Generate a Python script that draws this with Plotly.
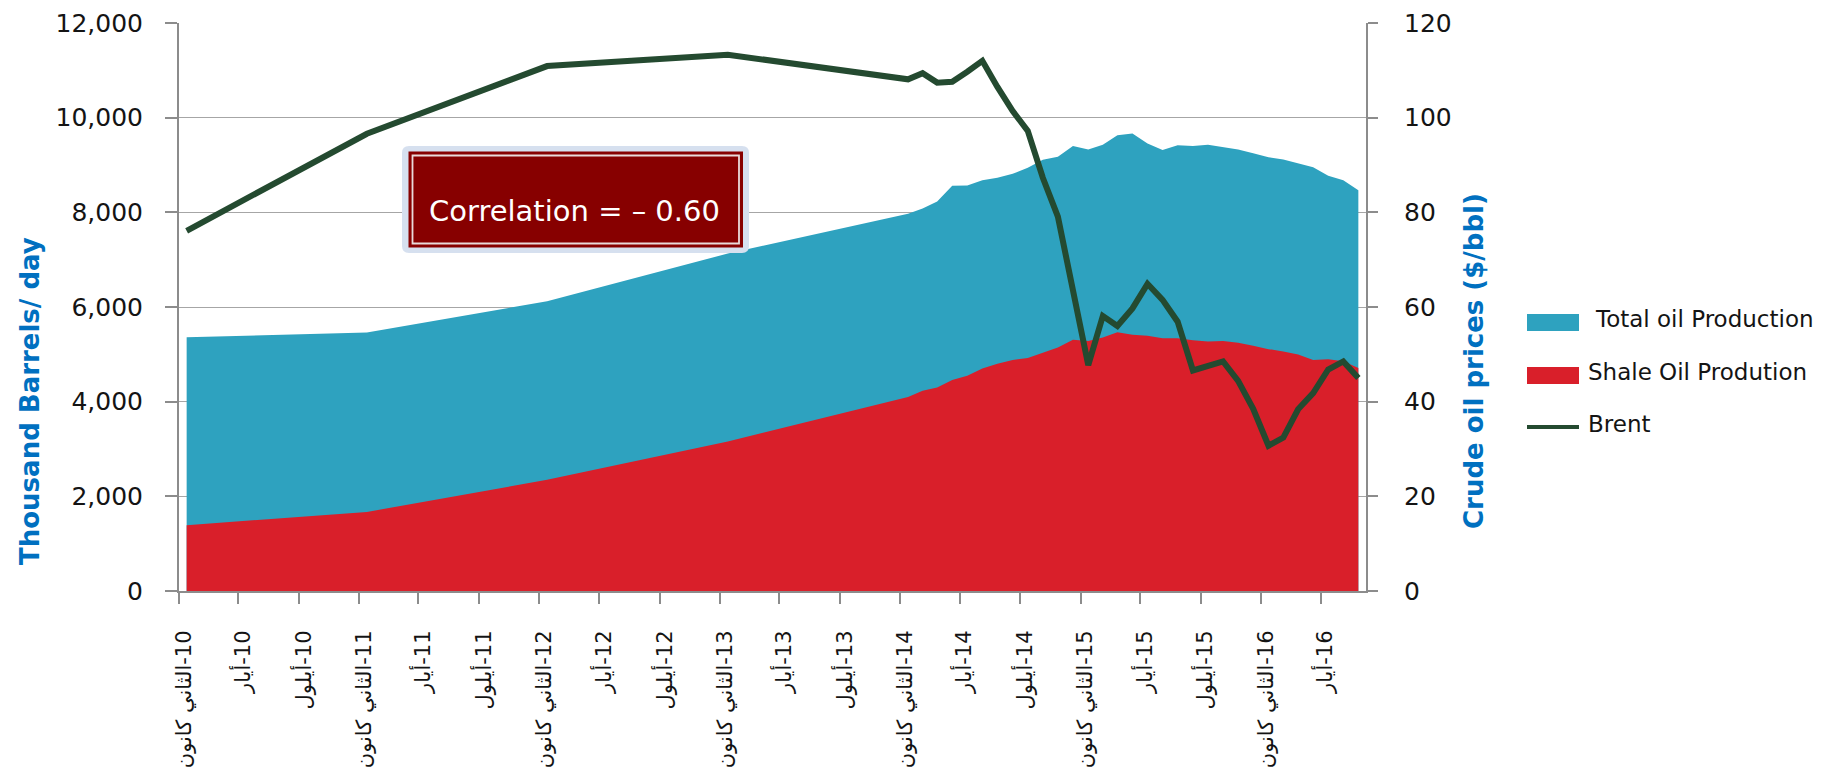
import plotly.graph_objects as go

# ---------------- data ----------------
dates = ["2010-01", "2011-01", "2012-01", "2013-01",
         "2014-01", "2014-02", "2014-03", "2014-04", "2014-05", "2014-06",
         "2014-07", "2014-08", "2014-09", "2014-10", "2014-11", "2014-12",
         "2015-01", "2015-02", "2015-03", "2015-04", "2015-05", "2015-06",
         "2015-07", "2015-08", "2015-09", "2015-10", "2015-11", "2015-12",
         "2016-01", "2016-02", "2016-03", "2016-04", "2016-05", "2016-06",
         "2016-07"]

total_production = [5360, 5460, 6120, 7130,
                    7970, 8080, 8230, 8560, 8565, 8680, 8730, 8815, 8940, 9110, 9175, 9400,
                    9330, 9430, 9630, 9665, 9455, 9315, 9415, 9400, 9430, 9380, 9330, 9250,
                    9165, 9115, 9040, 8955, 8775, 8680, 8465]

shale_production = [1390, 1670, 2350, 3160,
                    4100, 4230, 4300, 4460, 4545, 4700, 4800, 4880, 4920, 5040, 5145, 5310,
                    5280, 5355, 5465, 5415, 5395, 5340, 5340, 5295, 5270, 5280, 5245, 5180,
                    5110, 5060, 4995, 4880, 4895, 4855, 4710]

brent_price = [76.1, 96.6, 110.9, 113.3,
               108.1, 109.4, 107.4, 107.6, 109.7, 112.0, 106.5, 101.4, 97.2, 87.3, 79.1, 63.5,
               47.7, 58.1, 56.0, 59.7, 64.9, 61.5, 56.9, 46.6, 47.5, 48.5, 44.4, 38.5,
               30.7, 32.4, 38.4, 41.8, 46.8, 48.5, 45.0]

tick_dates = ["2010-01-01", "2010-05-01", "2010-09-01",
              "2011-01-01", "2011-05-01", "2011-09-01",
              "2012-01-01", "2012-05-01", "2012-09-01",
              "2013-01-01", "2013-05-01", "2013-09-01",
              "2014-01-01", "2014-05-01", "2014-09-01",
              "2015-01-01", "2015-05-01", "2015-09-01",
              "2016-01-01", "2016-05-01"]

tick_labels = ["كانون\u200e الثاني\u200e-10", "أيار\u200e-10", "أيلول\u200e-10",
               "كانون\u200e الثاني\u200e-11", "أيار\u200e-11", "أيلول\u200e-11",
               "كانون\u200e الثاني\u200e-12", "أيار\u200e-12", "أيلول\u200e-12",
               "كانون\u200e الثاني\u200e-13", "أيار\u200e-13", "أيلول\u200e-13",
               "كانون\u200e الثاني\u200e-14", "أيار\u200e-14", "أيلول\u200e-14",
               "كانون\u200e الثاني\u200e-15", "أيار\u200e-15", "أيلول\u200e-15",
               "كانون\u200e الثاني\u200e-16", "أيار\u200e-16"]

series_names = ["Total oil Production", "Shale Oil Prodution", "Brent"]

# ---------------- styles / geometry ----------------
W, H = 1847, 779
L, R, T, B = 179, 1366, 23, 591

TEAL = "#2EA2BF"
RED = "#D91F2A"
GREEN = "#244A30"
BLUE = "#0070C0"
GRID = "#A6A6A6"
AXIS = "#8C8C8C"
TXT = "#141414"
FONT = "DejaVu Sans"


def px_x(p):
    return (p - L) / (R - L)


def px_y(p):
    return (B - p) / (B - T)


def rounded_rect(x0, y0, x1, y1, r):
    X0, X1 = px_x(x0), px_x(x1)
    Y0, Y1 = px_y(y0), px_y(y1)  # Y0 top (larger), Y1 bottom
    rx = r / (R - L)
    ry = r / (B - T)
    return (f"M{X0 + rx},{Y0} L{X1 - rx},{Y0} Q{X1},{Y0} {X1},{Y0 - ry} "
            f"L{X1},{Y1 + ry} Q{X1},{Y1} {X1 - rx},{Y1} "
            f"L{X0 + rx},{Y1} Q{X0},{Y1} {X0},{Y1 + ry} "
            f"L{X0},{Y0 - ry} Q{X0},{Y0} {X0 + rx},{Y0} Z")


fig = go.Figure()

fig.add_trace(go.Scatter(
    x=dates, y=total_production, name=series_names[0], mode="lines",
    line=dict(width=0, color=TEAL), fill="tozeroy", fillcolor=TEAL,
    xperiod="M1", xperiodalignment="middle", showlegend=False))

fig.add_trace(go.Scatter(
    x=dates, y=shale_production, name=series_names[1], mode="lines",
    line=dict(width=0, color=RED), fill="tozeroy", fillcolor=RED,
    xperiod="M1", xperiodalignment="middle", showlegend=False))

fig.add_trace(go.Scatter(
    x=dates, y=brent_price, name=series_names[2], mode="lines", yaxis="y2",
    line=dict(width=6, color=GREEN), xperiod="M1", xperiodalignment="middle",
    showlegend=False))

fig.update_layout(
    width=W, height=H, autosize=False,
    margin=dict(l=L, r=W - R, t=T, b=H - B, pad=0),
    paper_bgcolor="white", plot_bgcolor="white",
    showlegend=False,
    xaxis=dict(
        type="date", range=["2010-01-01", "2016-08-01"],
        tickmode="array", tickvals=tick_dates, ticktext=tick_labels,
        tickangle=-90, ticks="outside", ticklen=11, tickwidth=1.5, tickcolor=AXIS,
        showline=True, linecolor=AXIS, linewidth=2, showgrid=False, zeroline=False,
        ticklabelshift=5, ticklabelstandoff=18,
        tickfont=dict(family=FONT, size=21, color=TXT), automargin=False),
    yaxis=dict(
        range=[0, 12000], dtick=2000, tickformat=",", showgrid=True,
        gridcolor=GRID, gridwidth=1.3, showline=True, linecolor=AXIS, linewidth=2,
        ticks="outside", ticklen=12, tickwidth=1.5, tickcolor=AXIS, zeroline=False,
        ticklabelstandoff=17, tickfont=dict(family=FONT, size=25, color=TXT),
        automargin=False),
    yaxis2=dict(
        range=[0, 120], dtick=20, overlaying="y", side="right", showgrid=False,
        showline=True, linecolor=AXIS, linewidth=2, ticks="outside", ticklen=10,
        tickwidth=1.5, tickcolor=AXIS, zeroline=False, ticklabelstandoff=21,
        tickfont=dict(family=FONT, size=25, color=TXT), automargin=False),
)

annotations = [
    dict(text="<b>Thousand Barrels/ day</b>", x=px_x(30), y=px_y(401), textangle=-90,
         font=dict(family=FONT, size=26, color=BLUE)),
    dict(text="<b>Crude oil prices ($/bbl)</b>", x=px_x(1474), y=px_y(361), textangle=-90,
         font=dict(family=FONT, size=26, color=BLUE)),
    dict(text="Correlation = \u2013 0.60", x=px_x(574), y=px_y(211),
         font=dict(family=FONT, size=29, color="white")),
    dict(text=series_names[0], x=px_x(1593), y=px_y(319), xanchor="left",
         font=dict(family=FONT, size=23, color=TXT)),
    dict(text=series_names[1], x=px_x(1586), y=px_y(372), xanchor="left",
         font=dict(family=FONT, size=23, color=TXT)),
    dict(text=series_names[2], x=px_x(1586), y=px_y(424), xanchor="left",
         font=dict(family=FONT, size=23, color=TXT)),
]
for a in annotations:
    a.setdefault("xanchor", "center")
    a.setdefault("yanchor", "middle")
    a.update(xref="paper", yref="paper", showarrow=False)
fig.update_layout(annotations=annotations)

shapes = [
    # correlation box
    dict(type="path", path=rounded_rect(402, 146, 749, 253, 7),
         fillcolor="#D6E0EF", line=dict(width=0)),
    dict(type="rect", x0=px_x(408.5), x1=px_x(743), y0=px_y(151.5), y1=px_y(247.5),
         fillcolor="#870000", line=dict(width=0)),
    dict(type="rect", x0=px_x(412.5), x1=px_x(739), y0=px_y(155.5), y1=px_y(243.5),
         fillcolor="rgba(0,0,0,0)", line=dict(width=1.8, color="#E9DADA")),
    # legend swatches
    dict(type="rect", x0=px_x(1527), x1=px_x(1579), y0=px_y(314), y1=px_y(331),
         fillcolor=TEAL, line=dict(width=0)),
    dict(type="rect", x0=px_x(1527), x1=px_x(1579), y0=px_y(367), y1=px_y(384),
         fillcolor=RED, line=dict(width=0)),
    dict(type="line", x0=px_x(1527), x1=px_x(1579), y0=px_y(427), y1=px_y(427),
         line=dict(width=4, color=GREEN)),
]
for s in shapes:
    s.update(xref="paper", yref="paper", layer="above")
fig.update_layout(shapes=shapes)

fig.write_html("out.html", config={"displayModeBar": False},
               post_script="document.body.style.margin='0';document.body.style.overflow='hidden';")
